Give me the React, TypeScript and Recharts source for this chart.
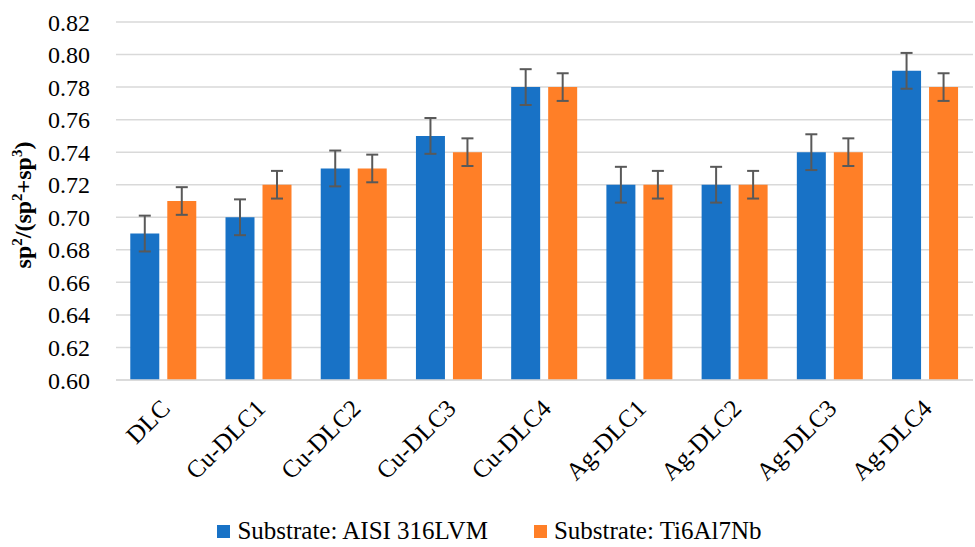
import React from "react";
import { BarChart, Bar, XAxis, YAxis, CartesianGrid, ErrorBar, Legend, Label } from "recharts";

const samples = ["DLC", "Cu-DLC1", "Cu-DLC2", "Cu-DLC3", "Cu-DLC4", "Ag-DLC1", "Ag-DLC2", "Ag-DLC3", "Ag-DLC4"];
const aisiRatio = [0.69, 0.7, 0.73, 0.75, 0.78, 0.72, 0.72, 0.74, 0.79];
const aisiError = [0.011, 0.011, 0.011, 0.011, 0.011, 0.011, 0.011, 0.011, 0.011];
const tiRatio = [0.71, 0.72, 0.73, 0.74, 0.78, 0.72, 0.72, 0.74, 0.78];
const tiError = [0.0085, 0.0085, 0.0085, 0.0085, 0.0085, 0.0085, 0.0085, 0.0085, 0.0085];
const yTicks = [0.6, 0.62, 0.64, 0.66, 0.68, 0.7, 0.72, 0.74, 0.76, 0.78, 0.8, 0.82];

const BLUE = "#1872C6";
const ORANGE = "#FF7F27";
const FONT = '"Liberation Serif", "Times New Roman", serif';

const data = samples.map((name, i) => ({
  name,
  aisi: aisiRatio[i],
  aisiErr: aisiError[i],
  ti: tiRatio[i],
  tiErr: tiError[i],
}));

// category names, rotated 45° and anchored at their end
function SampleTick({ x, y, payload }: any) {
  const ax = x + 8;
  const ay = y + 22;
  return (
    <text
      x={ax}
      y={ay}
      transform={`rotate(-45, ${ax}, ${ay})`}
      textAnchor="end"
      style={{ fontFamily: FONT }}
      fontSize={25}
      fill="#000"
    >
      {payload.value}
    </text>
  );
}

function RatioLabel() {
  const cx = 31;
  const cy = 205;
  const sup = 15;
  return (
    <text
      x={cx}
      y={cy}
      transform={`rotate(-90, ${cx}, ${cy})`}
      textAnchor="middle"
      style={{ fontFamily: FONT }}
      fontWeight="bold"
      fontSize={24}
      fill="#000"
    >
      <tspan>sp</tspan>
      <tspan dy={-9} fontSize={sup}>2</tspan>
      <tspan dy={9}>/(sp</tspan>
      <tspan dy={-9} fontSize={sup}>2</tspan>
      <tspan dy={9}>+sp</tspan>
      <tspan dy={-9} fontSize={sup}>3</tspan>
      <tspan dy={9}>)</tspan>
    </text>
  );
}

function SubstrateLegend() {
  const items = [
    { label: "Substrate: AISI 316LVM", color: BLUE },
    { label: "Substrate: Ti6Al7Nb", color: ORANGE },
  ];
  return (
    <div
      style={{
        height: 40,
        display: "flex",
        justifyContent: "center",
        alignItems: "center",
        gap: 46,
        fontFamily: FONT,
        fontSize: 25,
        color: "#000",
        paddingLeft: 6,
        paddingTop: 8,
        boxSizing: "border-box",
      }}
    >
      {items.map((it) => (
        <div key={it.label} style={{ display: "flex", alignItems: "center" }}>
          <span style={{ width: 13, height: 13, background: it.color, marginRight: 7, display: "inline-block" }} />
          <span>{it.label}</span>
        </div>
      ))}
    </div>
  );
}

export default function App() {
  return (
    <div
      style={{
        position: "absolute",
        left: 0,
        top: 0,
        width: 975,
        height: 547,
        background: "#fff",
        fontFamily: FONT,
      }}
    >
      <BarChart
        width={975}
        height={547}
        data={data}
        margin={{ top: 22, right: 2, bottom: 0, left: 0 }}
        barCategoryGap="15%"
        barGap={8}
        style={{ fontFamily: FONT }}
      >
        <CartesianGrid vertical={false} stroke="#d9d9d9" strokeWidth={1.5} />
        <XAxis
          dataKey="name"
          interval={0}
          height={127}
          tickLine={false}
          axisLine={{ stroke: "#d9d9d9", strokeWidth: 1.5 }}
          tick={<SampleTick />}
        />
        <YAxis
          width={116}
          domain={[0.6, 0.82]}
          ticks={yTicks}
          allowDataOverflow
          tickLine={false}
          axisLine={false}
          tickMargin={20}
          tickFormatter={(v: number) => v.toFixed(2)}
          tick={{ fontSize: 24, fill: "#000", style: { fontFamily: FONT } }}
        >
          <Label content={<RatioLabel />} />
        </YAxis>
        <Legend verticalAlign="bottom" content={<SubstrateLegend />} />
        <Bar dataKey="aisi" name="Substrate: AISI 316LVM" fill={BLUE} isAnimationActive={false}>
          <ErrorBar dataKey="aisiErr" width={6} stroke="#595959" strokeWidth={2} direction="y" />
        </Bar>
        <Bar dataKey="ti" name="Substrate: Ti6Al7Nb" fill={ORANGE} isAnimationActive={false}>
          <ErrorBar dataKey="tiErr" width={6} stroke="#595959" strokeWidth={2} direction="y" />
        </Bar>
      </BarChart>
    </div>
  );
}
